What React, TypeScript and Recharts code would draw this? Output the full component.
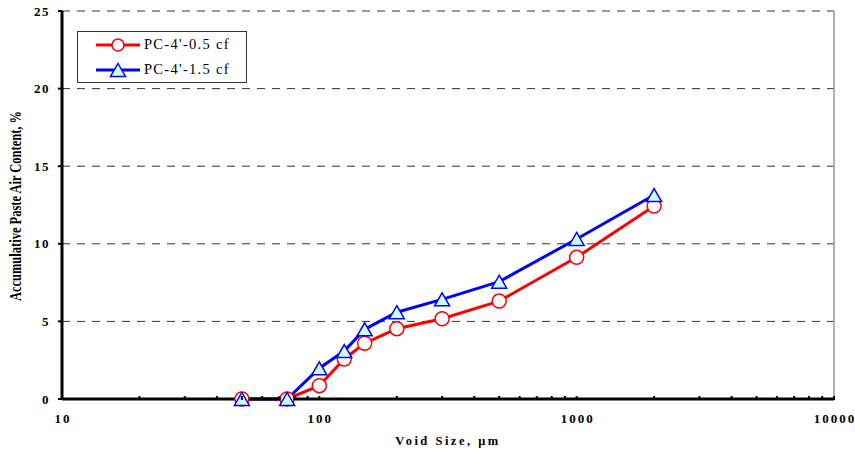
import React from "react";
import {
  LineChart,
  Line,
  XAxis,
  YAxis,
  CartesianGrid,
  Legend,
  ReferenceLine,
} from "recharts";

const voidSizes = [50, 75, 100, 125, 150, 200, 300, 500, 1000, 2000];
const pc05 = [0, 0, 0.86, 2.58, 3.59, 4.53, 5.17, 6.31, 9.13, 12.43];
const pc15 = [0, 0, 1.98, 3.09, 4.49, 5.59, 6.42, 7.56, 10.31, 13.14];
const seriesNames = ["PC-4'-0.5 cf", "PC-4'-1.5 cf"];

const xTicks = [
  10, 20, 30, 40, 50, 60, 70, 80, 90,
  100, 200, 300, 400, 500, 600, 700, 800, 900,
  1000, 2000, 3000, 4000, 5000, 6000, 7000, 8000, 9000,
  10000,
];
const xMajorTicks = [10, 100, 1000, 10000];
const yTicks = [0, 5, 10, 15, 20, 25];
const xTitle = "Void Size, μm";
const yTitle = "Accumulative Paste Air Content, %";

const data = voidSizes.map((x, i) => ({ x, a: pc05[i], b: pc15[i] }));

const FONT = "'Liberation Serif', 'Times New Roman', serif";

const XTick = (props: any) => {
  const { x, y, payload } = props;
  const v = payload.value;
  const major = xMajorTicks.includes(v);
  return (
    <g>
      <line x1={x} x2={x} y1={y - 3} y2={y + 1} stroke="#000" strokeWidth={2} />
      {major && (
        <text
          x={x + 1}
          y={y + 24}
          textAnchor="middle"
          fontFamily={FONT}
          fontWeight="bold"
          fontSize={13}
          letterSpacing={2}
          fill="#000"
        >
          {v}
        </text>
      )}
    </g>
  );
};

const YTick = (props: any) => {
  const { x, y, payload } = props;
  return (
    <g>
      <line x1={x - 4} x2={x} y1={y} y2={y} stroke="#000" strokeWidth={2} />
      <text
        x={x - 12}
        y={y + 4.5}
        textAnchor="end"
        fontFamily={FONT}
        fontWeight="bold"
        fontSize={13}
        letterSpacing={1.5}
        fill="#000"
      >
        {payload.value}
      </text>
    </g>
  );
};

const YLabel = (props: any) => {
  const vb = props.viewBox || { x: 0, y: 11, width: 62, height: 388 };
  const cx = 21;
  const cy = vb.y + vb.height / 2 + 1;
  return (
    <text
      transform={`translate(${cx},${cy}) rotate(-90) scale(1,1.3)`}
      x={0}
      y={0}
      textAnchor="middle"
      fontFamily={FONT}
      fontWeight="bold"
      fontSize={12.5}
      fill="#000"
    >
      {yTitle}
    </text>
  );
};

const Triangle = (props: any) => {
  const { cx, cy } = props;
  if (cx == null || cy == null) return null;
  return (
    <path
      d={`M${cx},${cy - 6.5} L${cx + 7.5},${cy + 6.5} L${cx - 7.5},${cy + 6.5} Z`}
      fill="#ccffff"
      stroke="#0000ff"
      strokeWidth={1.5}
    />
  );
};

const LegendContent = () => (
  <div
    style={{
      width: 168,
      height: 50,
      border: "1px solid #333",
      background: "#fff",
      fontFamily: FONT,
      fontSize: 14.5,
      letterSpacing: 1.3,
      boxSizing: "content-box",
    }}
  >
    {[0, 1].map((i) => (
      <div key={i} style={{ display: "flex", alignItems: "center", height: 25 }}>
        <svg width={66} height={20} style={{ marginLeft: 18 }}>
          <line
            x1={0}
            x2={44}
            y1={10}
            y2={10}
            stroke={i === 0 ? "#ff0000" : "#0000ff"}
            strokeWidth={3}
          />
          {i === 0 ? (
            <circle cx={22} cy={10} r={6} fill="#fff" stroke="#ff0000" strokeWidth={1.5} />
          ) : (
            <path d="M22,3.5 L29.5,16.5 L14.5,16.5 Z" fill="#ccffff" stroke="#0000ff" strokeWidth={1.5} />
          )}
        </svg>
        <span style={{ marginLeft: -18 }}>{seriesNames[i]}</span>
      </div>
    ))}
  </div>
);

export default function App() {
  return (
    <div style={{ position: "absolute", left: 0, top: 0, width: 855, height: 455, background: "#fff" }}>
      <LineChart
        width={855}
        height={455}
        data={data}
        margin={{ top: 11, right: 21, bottom: 0, left: 0 }}
      >
        <CartesianGrid
          horizontal
          vertical={false}
          stroke="#333"
          strokeDasharray="8 7"
          strokeWidth={1}
        />
        <ReferenceLine x={10000} stroke="#999" strokeWidth={1.5} />
        <XAxis
          dataKey="x"
          type="number"
          scale="log"
          domain={[10, 10000]}
          ticks={xTicks}
          interval={0}
          allowDataOverflow
          height={56}
          tickSize={0}
          tickMargin={0}
          tickLine={false}
          axisLine={{ stroke: "#000", strokeWidth: 3 }}
          tick={<XTick />}
          label={{
            value: xTitle,
            position: "insideBottom",
            offset: 10,
            style: {
              fontFamily: FONT,
              fontWeight: "bold",
              fontSize: 12.5,
              letterSpacing: 2.5,
              fill: "#000",
            },
          }}
        />
        <YAxis
          type="number"
          domain={[0, 25]}
          ticks={yTicks}
          interval={0}
          width={62}
          tickSize={0}
          tickMargin={0}
          tickLine={false}
          axisLine={{ stroke: "#000", strokeWidth: 3 }}
          tick={<YTick />}
          label={{ value: yTitle, content: <YLabel /> }}
        />
        <Legend
          layout="horizontal"
          verticalAlign="middle"
          align="center"
          content={<LegendContent />}
          wrapperStyle={{ top: 31, left: 77, width: 170, height: 52 }}
        />
        <Line
          type="linear"
          dataKey="a"
          name={seriesNames[0]}
          stroke="#ff0000"
          strokeWidth={3}
          dot={{ r: 7, fill: "#fff", stroke: "#ff0000", strokeWidth: 1.5 }}
          activeDot={false}
          isAnimationActive={false}
        />
        <Line
          type="linear"
          dataKey="b"
          name={seriesNames[1]}
          stroke="#0000ff"
          strokeWidth={3}
          dot={<Triangle />}
          activeDot={false}
          isAnimationActive={false}
        />
      </LineChart>
    </div>
  );
}
